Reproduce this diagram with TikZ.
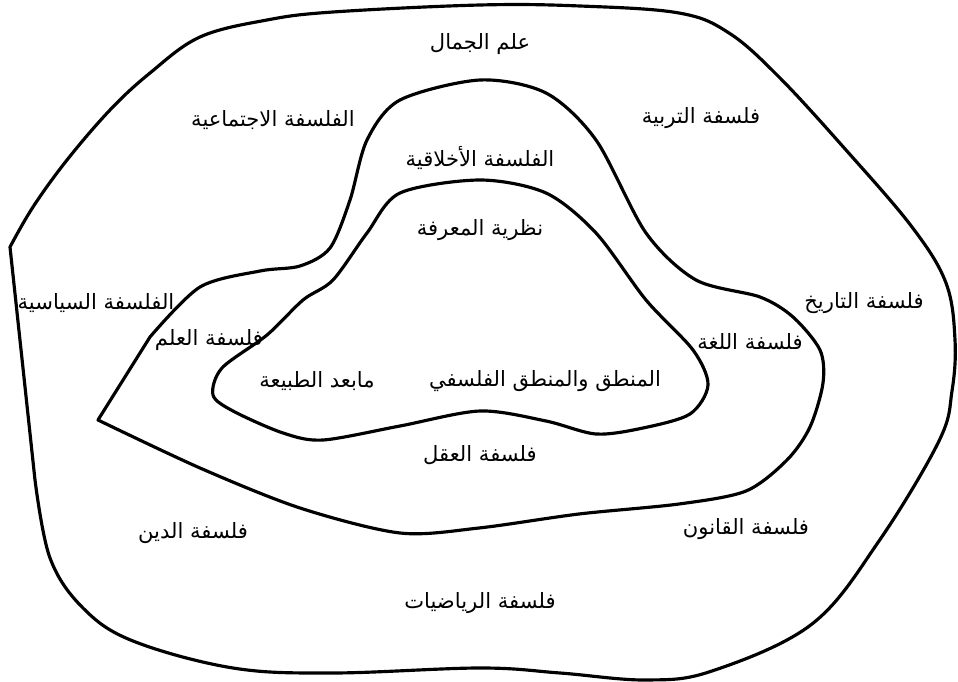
\documentclass[tikz,border=0pt]{standalone}
\usepackage{fontspec}
\usepackage{tikz}
\newfontfamily\arabicfont[Script=Arabic]{DejaVu Sans}
\TeXXeTstate=1
\tikzset{every node/.style={font=\arabicfont}}

\begin{document}
\begin{tikzpicture}[x=0.02cm, y=-0.02cm, every node/.style={font=\arabicfont\fontsize{12}{14}\selectfont}]
    % Define styles
    \tikzstyle{field} = [text centered, inner sep=1pt]
    \tikzstyle{boundary} = [line width=1.8pt, line join=round]

    \useasboundingbox (0,0) rectangle (958,682);

    % Outer region
    \draw [boundary] plot [smooth, tension=0.6] coordinates {(35,480) (50,558) (83,608) (133,641) (233,668) (333,673) (480,668) (560,673) (646,680) (712,671) (812,624) (879,541) (939,441) (952,391) (955,340) (946,283) (912,227) (846,150) (779,77) (729,33) (679,13) (580,6) (480,5) (333,12) (267,20) (200,37) (150,73) (110,110) (67,160) (33,207) (10,247)} -- cycle;

    % Middle region
    \draw [boundary] plot [smooth] coordinates {(150,337) (200,287) (260,271) (300,266) (330,248) (350,200) (367,140) (400,100) (480,80) (546,93) (596,140) (646,233) (696,280) (760,297) (793,317) (820,350) (823,383) (810,427) (787,460) (746,491) (679,504) (579,514) (479,528) (400,533) (300,508) (200,468) (98,420)} -- cycle;

    % Inner region
    \draw [boundary] plot [smooth cycle] coordinates {(480,180) (546,193) (596,233) (646,300) (693,350) (708,385) (690,414) (643,428) (596,434) (546,421) (480,411) (400,426) (323,440) (283,433) (233,411) (213,395) (222,368) (267,335) (303,300) (333,280) (367,233) (400,193)};

    % Outer ring
    \node (aesthetics) [field] at (480,44) {\beginR علم الجمال\endR};
    \node (social) [field] at (273,120) {\beginR الفلسفة الاجتماعية\endR};
    \node (education) [field] at (701,118) {\beginR فلسفة التربية\endR};
    \node (political) [field] at (96,303) {\beginR الفلسفة السياسية\endR};
    \node (history) [field] at (864,303) {\beginR فلسفة التاريخ\endR};
    \node (religion) [field] at (193,533) {\beginR فلسفة الدين\endR};
    \node (law) [field] at (746,529) {\beginR فلسفة القانون\endR};
    \node (mathematics) [field] at (480,603) {\beginR فلسفة الرياضيات\endR};

    % Middle ring
    \node (ethics) [field] at (480,158) {\beginR الفلسفة الأخلاقية\endR};
    \node (science) [field] at (209,340) {\beginR فلسفة العلم\endR};
    \node (language) [field] at (750,342) {\beginR فلسفة اللغة\endR};
    \node (mind) [field] at (480,455) {\beginR فلسفة العقل\endR};

    % Inner core
    \node (epistemology) [field] at (480,230) {\beginR نظرية المعرفة\endR};
    \node (metaphysics) [field] at (317,381) {\beginR مابعد الطبيعة\endR};
    \node (logic) [field] at (545,381) {\beginR المنطق والمنطق الفلسفي\endR};
\end{tikzpicture}
\end{document}
